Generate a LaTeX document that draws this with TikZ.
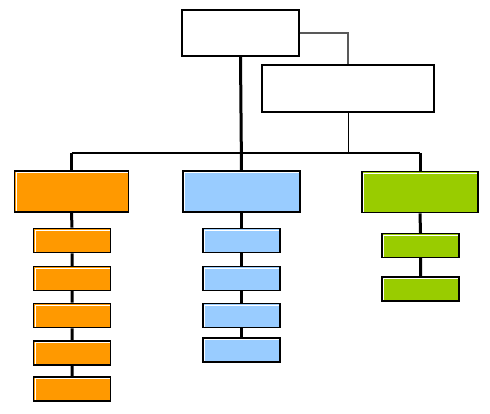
\documentclass[tikz,border=0pt]{standalone}
\definecolor{orgf}{HTML}{FF9900}
\definecolor{bluf}{HTML}{99CCFF}
\definecolor{grnf}{HTML}{99CC00}
\begin{document}
\begin{tikzpicture}[x=1pt,y=-1pt,
  box/.style={draw=black,line width=1.2pt,inner sep=0pt,
    path picture={\draw[white,line width=1pt]
      ([xshift=1.8pt,yshift=0.5pt]path picture bounding box.south west) |-
      ([xshift=-0.5pt,yshift=-1.8pt]path picture bounding box.north east);}},
  wbox/.style={draw=black,line width=1.3pt,fill=white,inner sep=0pt},
  heavy/.style={line width=1.7pt},
  ob/.style={box,fill=orgf},
  bb/.style={box,fill=bluf},
  gb/.style={box,fill=grnf},
  lvl/.style={minimum width=#1,minimum height=41},
  kid/.style={minimum width=77,minimum height=24},
  trunk/.style={line width=3pt},
  branch/.style={line width=1.8pt},
  thin/.style={line width=1pt}]
\useasboundingbox (0,0) rectangle (490,414);
\fill[white] (0,0) rectangle (490,414);
% top
\node[wbox,minimum width=117,minimum height=46] (top) at (240.5,33) {};
\node[wbox,minimum width=172,minimum height=47] (sec) at (348,88.5) {};
% level 2
\node[ob,lvl=114] (o) at (71.5,191.5) {};
\node[bb,lvl=117] (b) at (241.5,191.5) {};
\node[gb,lvl=116,heavy] (g) at (420,192) {};
% orange kids
\node[ob,kid,heavy] (o1) at (72,240.5) {};
\node[ob,kid] (o2) at (72,278.5) {};
\node[ob,kid,heavy] (o3) at (72,315.5) {};
\node[ob,kid] (o4) at (72,353) {};
\node[ob,kid] (o5) at (72,389) {};
% blue kids
\node[bb,kid,heavy] (b1) at (241.5,240.5) {};
\node[bb,kid,heavy] (b2) at (241.5,278.5) {};
\node[bb,kid,heavy] (b3) at (241.5,315.5) {};
\node[bb,kid] (b4) at (241.5,350) {};
% green kids
\node[gb,kid] (g1) at (420.5,245.5) {};
\node[gb,kid,heavy] (g2) at (420.5,289) {};
% connectors
\coordinate (j) at (348,153);
\draw[line width=1.5pt,draw=black!65] (top.east) -| (sec.north);
\draw[trunk] (top.south) -- (b.north);
\draw[thin] (sec.south) -- (j);
\draw[branch] (o.north|-j) -- (g.north|-j);
\draw[trunk] (o.north|-j) -- (o.north);
\draw[trunk] (g.north|-j) -- (g.north);
\draw[trunk] (o.south) -- (o1.north) (o1.south) -- (o2.north) (o2.south) -- (o3.north)
  (o3.south) -- (o4.north) (o4.south) -- (o5.north);
\draw[trunk] (b.south) -- (b1.north) (b1.south) -- (b2.north) (b2.south) -- (b3.north)
  (b3.south) -- (b4.north);
\draw[trunk] (g.south) -- (g1.north) (g1.south) -- (g2.north);
\end{tikzpicture}
\end{document}
